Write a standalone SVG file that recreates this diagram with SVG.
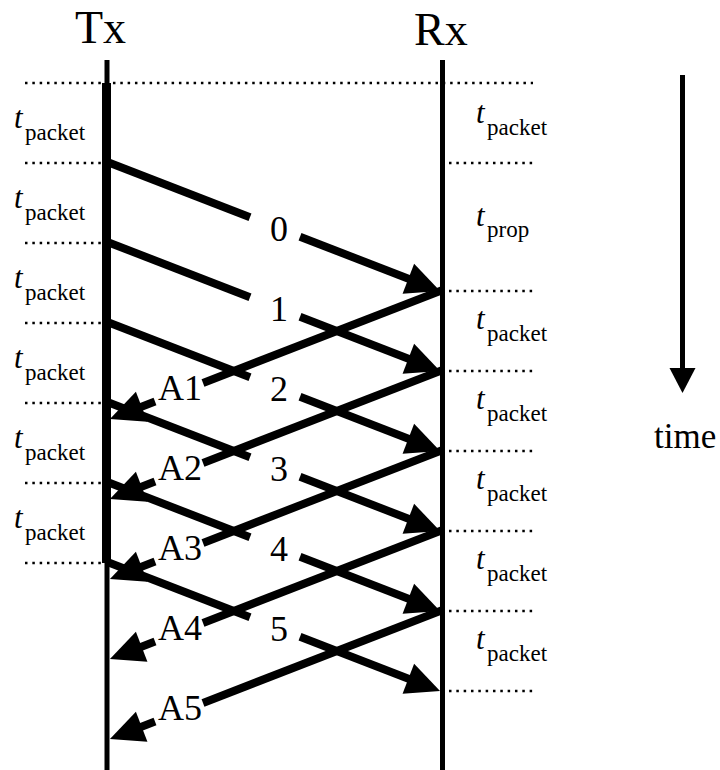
<svg xmlns="http://www.w3.org/2000/svg" width="720" height="770" viewBox="0 0 720 770" font-family="'Liberation Serif', 'Times New Roman', serif">
<style>
text, tspan { font-family: 'Liberation Serif', 'Times New Roman', serif; fill: #000; }
.big { font-size: 46px; }
.lbl { font-size: 36px; text-anchor: middle; }
.ti { font-size: 31px; font-style: italic; }
.sub { font-size: 23px; font-style: normal; }
.dot { stroke: #000; stroke-width: 2.5; stroke-dasharray: 2.5 4.83; fill: none; }
.ln { stroke: #000; stroke-width: 8; fill: none; stroke-linecap: butt; }
.arr { marker-end: url(#ah); }
</style>
<defs>
<marker id="ah" markerUnits="userSpaceOnUse" markerWidth="34" markerHeight="32" viewBox="0 -16 34 32" refX="14" refY="0" orient="auto" overflow="visible">
<path d="M0,-16 L34,0 L0,16 z" fill="#000"/>
</marker>
</defs>
<rect width="720" height="770" fill="#fff"/>

<g id="dotted">
<path class="dot" d="M25,83 H533"/>
<path class="dot" d="M25,163 H101 M25,243 H101 M25,323 H101 M25,403 H101 M25,483 H101 M25,563 H101"/>
<path class="dot" d="M449,163 H533 M449,291 H533 M449,371 H533 M449,451 H533 M449,531 H533 M449,611 H533 M449,691 H533"/>
</g>

<g id="tx">
<text class="big" x="75" y="43">Tx</text>
<rect x="104.5" y="60" width="5" height="710" fill="#000"/>
<rect x="102" y="83" width="9" height="480" fill="#000"/>
</g>

<g id="rx">
<text class="big" x="414" y="45">Rx</text>
<rect x="440" y="60" width="5" height="710" fill="#000"/>
</g>

<g id="left-labels">
<text x="14" y="128"><tspan class="ti">t</tspan><tspan class="sub" x="25" y="140">packet</tspan></text>
<text x="14" y="208"><tspan class="ti">t</tspan><tspan class="sub" x="25" y="220">packet</tspan></text>
<text x="14" y="288"><tspan class="ti">t</tspan><tspan class="sub" x="25" y="300">packet</tspan></text>
<text x="14" y="368"><tspan class="ti">t</tspan><tspan class="sub" x="25" y="380">packet</tspan></text>
<text x="14" y="448"><tspan class="ti">t</tspan><tspan class="sub" x="25" y="460">packet</tspan></text>
<text x="14" y="528"><tspan class="ti">t</tspan><tspan class="sub" x="25" y="540">packet</tspan></text>
</g>

<g id="right-labels">
<text x="476" y="123"><tspan class="ti">t</tspan><tspan class="sub" x="487" y="135">packet</tspan></text>
<text x="476" y="226"><tspan class="ti">t</tspan><tspan class="sub" x="487" y="237">prop</tspan></text>
<text x="476" y="329"><tspan class="ti">t</tspan><tspan class="sub" x="487" y="341">packet</tspan></text>
<text x="476" y="409"><tspan class="ti">t</tspan><tspan class="sub" x="487" y="421">packet</tspan></text>
<text x="476" y="489"><tspan class="ti">t</tspan><tspan class="sub" x="487" y="501">packet</tspan></text>
<text x="476" y="569"><tspan class="ti">t</tspan><tspan class="sub" x="487" y="581">packet</tspan></text>
<text x="476" y="649"><tspan class="ti">t</tspan><tspan class="sub" x="487" y="661">packet</tspan></text>
</g>

<g id="connectors">
<g id="packets">
<path class="ln" d="M108,162.2 L250,217.3"/><path class="ln arr" d="M300,236.7 L421.4,283.8"/>
<path class="ln" d="M108,242.2 L250,297.3"/><path class="ln arr" d="M300,316.7 L421.4,363.8"/>
<path class="ln" d="M108,322.2 L250,377.3"/><path class="ln arr" d="M300,396.7 L421.4,443.8"/>
<path class="ln" d="M108,402.2 L250,457.3"/><path class="ln arr" d="M300,476.7 L421.4,523.8"/>
<path class="ln" d="M108,482.2 L250,537.3"/><path class="ln arr" d="M300,556.7 L421.4,603.8"/>
<path class="ln" d="M108,562.2 L250,617.3"/><path class="ln arr" d="M300,636.7 L421.4,683.8"/>
</g>
<g id="acks">
<path class="ln" d="M442,290.2 L203,382.9"/><path class="ln arr" d="M155,401.6 L128.6,411.8"/>
<path class="ln" d="M442,370.2 L203,462.9"/><path class="ln arr" d="M155,481.6 L128.6,491.8"/>
<path class="ln" d="M442,450.2 L203,542.9"/><path class="ln arr" d="M155,561.6 L128.6,571.8"/>
<path class="ln" d="M442,530.2 L203,622.9"/><path class="ln arr" d="M155,641.6 L128.6,651.8"/>
<path class="ln" d="M442,610.2 L203,702.9"/><path class="ln arr" d="M155,721.6 L128.6,731.8"/>
</g>
<g id="time-arrow">
<rect x="680" y="75" width="5" height="295" fill="#000"/>
<polygon points="669.5,368 695.5,368 682.5,393" fill="#000"/>
</g>
</g>

<g id="packet-labels">
<text class="lbl" x="279" y="241">0</text>
<text class="lbl" x="279" y="321">1</text>
<text class="lbl" x="279" y="401">2</text>
<text class="lbl" x="279" y="481">3</text>
<text class="lbl" x="279" y="561">4</text>
<text class="lbl" x="279" y="641">5</text>
</g>

<g id="ack-labels">
<text class="lbl" x="180" y="400">A1</text>
<text class="lbl" x="180" y="480">A2</text>
<text class="lbl" x="180" y="560">A3</text>
<text class="lbl" x="180" y="640">A4</text>
<text class="lbl" x="180" y="720">A5</text>
</g>

<g id="time-label">
<text x="654" y="448" font-size="35">time</text>
</g>
</svg>
